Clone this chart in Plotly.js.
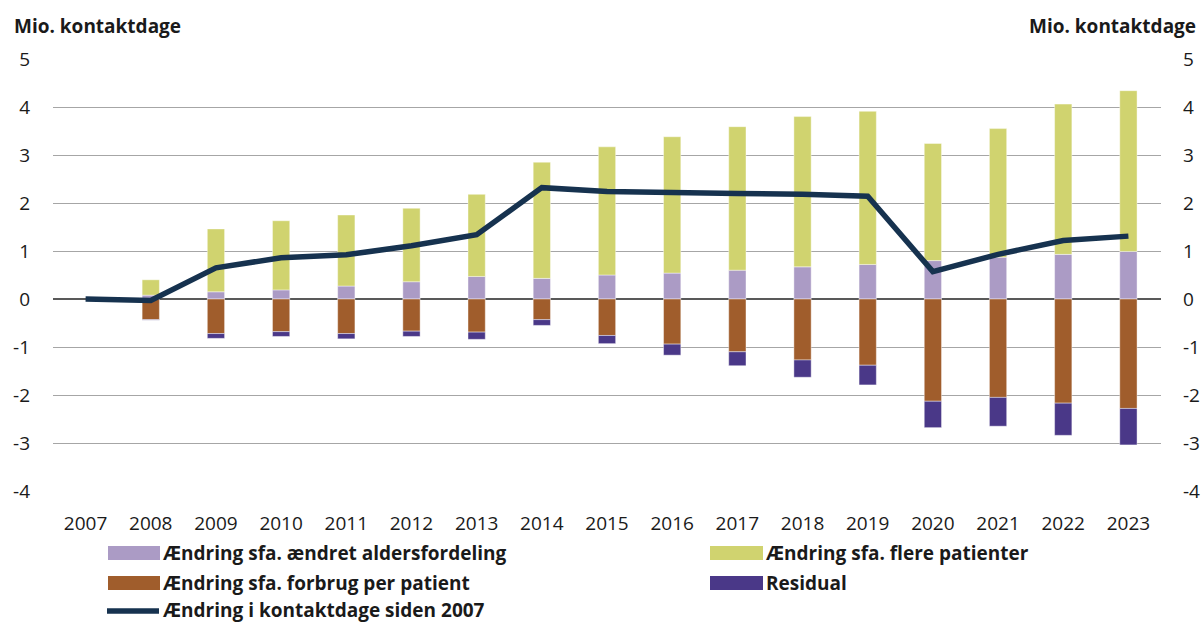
<!DOCTYPE html>
<html>
<head>
<meta charset="utf-8">
<script src="https://cdn.plot.ly/plotly-3.0.1.min.js"></script>
<style>html,body{margin:0;padding:0;background:#fff;} #chart{width:1201px;height:622px;}</style>
</head>
<body>
<div id="chart"></div>
<script>
const years = ["2007","2008","2009","2010","2011","2012","2013","2014","2015","2016","2017","2018","2019","2020","2021","2022","2023"];
const aldersfordeling = [null, 0.08, 0.15, 0.19, 0.27, 0.36, 0.47, 0.43, 0.50, 0.54, 0.60, 0.67, 0.72, 0.80, 0.87, 0.93, 0.99];
const flerePatienter = [null, 0.32, 1.31, 1.44, 1.48, 1.53, 1.71, 2.42, 2.67, 2.84, 2.99, 3.13, 3.19, 2.44, 2.68, 3.13, 3.35];
const forbrugPerPatient = [null, -0.43, -0.72, -0.68, -0.72, -0.67, -0.69, -0.43, -0.76, -0.94, -1.10, -1.27, -1.38, -2.13, -2.05, -2.17, -2.28];
const residual = [null, -0.01, -0.10, -0.10, -0.11, -0.11, -0.15, -0.12, -0.17, -0.23, -0.29, -0.36, -0.41, -0.55, -0.60, -0.67, -0.76];
const kontaktdage = [0, -0.03, 0.65, 0.86, 0.92, 1.11, 1.34, 2.32, 2.24, 2.21, 2.20, 2.18, 2.14, 0.57, 0.93, 1.22, 1.31];
const yTicks = [5, 4, 3, 2, 1, 0, -1, -2, -3, -4];

const names = {
  alders: "Ændring sfa. ændret aldersfordeling",
  flere: "Ændring sfa. flere patienter",
  forbrug: "Ændring sfa. forbrug per patient",
  resid: "Residual",
  line: "Ændring i kontaktdage siden 2007"
};
const colors = {alders: "#ab9bc5", flere: "#d0d36f", forbrug: "#a05d2c", resid: "#4a3888", line: "#16324f"};

const FONT = "Open Sans, Noto Sans, sans-serif";
const TXT = "#1a1a1a";
const edge = {width: 0.6, color: "rgba(255,255,255,0.7)"};

const traces = [
  {type: "bar", x: years, y: aldersfordeling, name: names.alders, marker: {color: colors.alders, line: edge}, showlegend: false},
  {type: "bar", x: years, y: flerePatienter, name: names.flere, marker: {color: colors.flere, line: edge}, showlegend: false},
  {type: "bar", x: years, y: forbrugPerPatient, name: names.forbrug, marker: {color: colors.forbrug, line: edge}, showlegend: false},
  {type: "bar", x: years, y: residual, name: names.resid, marker: {color: colors.resid, line: edge}, showlegend: false},
  {type: "scatter", mode: "lines", x: years, y: kontaktdage, yaxis: "y2", name: names.line, line: {color: colors.line, width: 5.5}, showlegend: false}
];

// plot area in pixels
const L = 53, R = 1161, T = 59, B = 491;
const px = v => (v - L) / (R - L);
const py = v => (B - v) / (B - T);

const shapes = [];
const annotations = [];
const LEGFONT = {family: FONT, size: 19, color: TXT};
function legendBox(x0, x1, yc, color, text) {
  shapes.push({type: "rect", xref: "paper", yref: "paper", x0: px(x0), x1: px(x1), y0: py(yc + 7), y1: py(yc - 7), fillcolor: color, line: {width: 0}});
  annotations.push({xref: "paper", yref: "paper", x: px(x1 + 1), y: py(yc), xanchor: "left", yanchor: "middle", showarrow: false, text: text, font: LEGFONT});
}
legendBox(108, 160, 553, colors.alders, "<b>" + names.alders + "</b>");
legendBox(710, 763, 553, colors.flere, "<b>" + names.flere + "</b>");
legendBox(108, 160, 583, colors.forbrug, "<b>" + names.forbrug + "</b>");
legendBox(710, 763, 583, colors.resid, "<b>" + names.resid + "</b>");
shapes.push({type: "line", xref: "paper", yref: "paper", x0: px(107), x1: px(159), y0: py(611), y1: py(611), line: {color: colors.line, width: 5.5}});
annotations.push({xref: "paper", yref: "paper", x: px(161), y: py(610), xanchor: "left", yanchor: "middle", showarrow: false, text: "<b>" + names.line + "</b>", font: LEGFONT});

annotations.push({xref: "paper", yref: "paper", x: px(12), y: py(26), xanchor: "left", yanchor: "middle", showarrow: false, text: "<b>Mio. kontaktdage</b>", font: {family: FONT, size: 19, color: TXT}});
annotations.push({xref: "paper", yref: "paper", x: px(1198), y: py(26), xanchor: "right", yanchor: "middle", showarrow: false, text: "<b>Mio. kontaktdage</b>", font: {family: FONT, size: 19, color: TXT}});

const TICKFONT = {family: FONT, size: 19, color: TXT};
const layout = {
  width: 1201, height: 622,
  margin: {l: L, r: 1201 - R, t: T, b: 622 - B, pad: 0},
  paper_bgcolor: "#fff", plot_bgcolor: "#fff",
  barmode: "relative", bargap: 0.735,
  font: {family: FONT, size: 19, color: TXT},
  showlegend: false,
  xaxis: {type: "category", categoryorder: "array", categoryarray: years, showgrid: false, zeroline: false, showline: false, ticks: "", ticklabelstandoff: 19, tickfont: TICKFONT},
  yaxis: {range: [-4, 5], tickvals: yTicks, ticktext: yTicks.map(String), showgrid: true, gridcolor: "#a6a6a6", gridwidth: 1, zeroline: true, zerolinecolor: "#595959", zerolinewidth: 1.5, showline: false, ticks: "", ticklabelstandoff: 22, tickfont: TICKFONT, fixedrange: true},
  yaxis2: {range: [-4, 5], overlaying: "y", side: "right", tickvals: yTicks, ticktext: yTicks.map(String), showgrid: false, zeroline: false, showline: false, ticks: "", ticklabelstandoff: 21, tickfont: TICKFONT, fixedrange: true},
  shapes: shapes,
  annotations: annotations
};

Plotly.newPlot("chart", traces, layout, {displayModeBar: false, staticPlot: true});
</script>
</body>
</html>
